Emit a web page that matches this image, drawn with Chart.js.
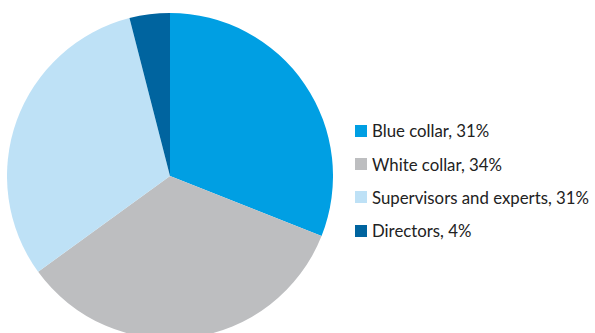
<!DOCTYPE html>
<html><head><meta charset="utf-8">
<script src="https://cdn.jsdelivr.net/npm/chart.js@4/dist/chart.umd.min.js"></script>
<style>
html,body{margin:0;padding:0;width:595px;height:333px;overflow:hidden;background:#fff;}
#wrap{position:absolute;left:7px;top:13px;width:326px;height:326px;}
#legend{position:absolute;left:355px;top:114px;font-family:Lato,"Open Sans",sans-serif;font-size:16.8px;color:#222;}
.item{display:flex;align-items:center;height:33.4px;white-space:nowrap;}
.sw{width:12px;height:12px;margin-right:5px;flex:none;}
</style></head><body>
<div id="wrap"><canvas id="c"></canvas></div>
<div id="legend"></div>
<script>
const categories = ["Blue collar", "White collar", "Supervisors and experts", "Directors"];
const values = [31, 34, 31, 4];
const colors = ["#009FE3", "#BDBEC0", "#BEE1F6", "#00649F"];

new Chart(document.getElementById('c'), {
  type: 'pie',
  data: { labels: categories, datasets: [{ data: values, backgroundColor: colors, borderWidth: 0 }] },
  options: {
    responsive: true, maintainAspectRatio: false, animation: false,
    layout: { padding: 0 },
    plugins: { legend: { display: false }, tooltip: { enabled: false } }
  }
});
const lg = document.getElementById('legend');
categories.forEach((c, i) => {
  const d = document.createElement('div'); d.className = 'item';
  const s = document.createElement('span'); s.className = 'sw'; s.style.background = colors[i];
  const t = document.createElement('span'); t.textContent = c + ', ' + values[i] + '%';
  d.appendChild(s); d.appendChild(t); lg.appendChild(d);
});
</script>
</body></html>
